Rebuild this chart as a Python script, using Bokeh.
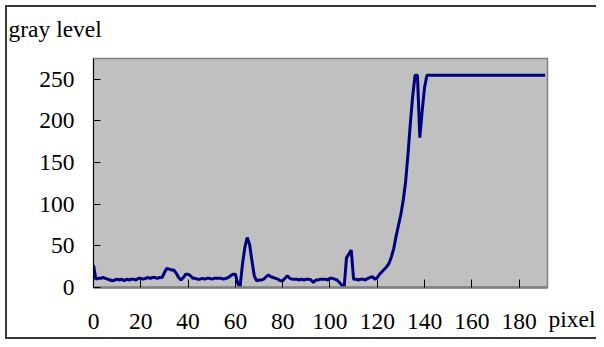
from bokeh.plotting import figure
from bokeh.models import Range1d, FixedTicker, Title
from bokeh.embed import file_html
from bokeh.resources import INLINE

# data: gray level along a row of pixels
pixel = list(range(192))
gray = [27, 10, 11, 11, 12, 11, 10, 9, 8, 9,
        10, 9, 10, 8, 10, 9, 10, 10, 9, 11,
        11, 10, 11, 12, 11, 12, 12, 11, 12, 12,
        18, 23, 22, 21, 21, 17, 12, 9, 12, 16,
        16, 14, 11, 11, 10, 10, 11, 10, 11, 11,
        10, 11, 11, 11, 11, 10, 11, 12, 14, 16,
        16, 5, 1, 28, 48, 60, 52, 32, 14, 8,
        9, 9, 10, 13, 15, 13, 12, 11, 10, 8,
        8, 11, 14, 11, 10, 10, 10, 9, 10, 9,
        10, 10, 9, 6, 9, 9, 10, 10, 10, 9,
        11, 11, 10, 9, 6, 3, 0, 36, 40, 45,
        10, 10, 9, 10, 10, 9, 11, 12, 13, 10,
        12, 16, 19, 22, 25, 29, 37, 47, 62, 75,
        88, 105, 127, 160, 197, 230, 255, 255, 180, 212,
        240] + [255] * 51

x_ticks = [0, 20, 40, 60, 80, 100, 120, 140, 160, 180]
y_ticks = [0, 50, 100, 150, 200, 250]
x_max = 192
y_max = 275
x_title = "pixel"
y_title = "gray level"

FONT = "Liberation Serif"
FS = "23.5px"

p = figure(width=596, height=339, output_backend="svg", toolbar_location=None,
           x_range=Range1d(0, x_max), y_range=Range1d(0, y_max),
           min_border_left=93, min_border_right=49, min_border_top=57, min_border_bottom=52)
p.styles = {"box-shadow": "inset 5px 5px 0 0 white, inset 7px 7px 0 0 #3a3a3a, inset 0 -2px 0 0 #3a3a3a"}
p.background_fill_color = "#c0c0c0"
p.border_fill_color = None
p.outline_line_color = "#808080"
p.outline_line_width = 1.5
p.xgrid.visible = False
p.ygrid.visible = False

p.line(pixel, gray, line_color="#000080", line_width=3)

xa = p.xaxis[0]
xa.ticker = FixedTicker(ticks=x_ticks)
xa.minor_tick_line_color = None
xa.major_tick_in = 8
xa.major_tick_out = 0
xa.major_tick_line_color = "black"
xa.axis_line_color = "#808080"
xa.axis_line_width = 2.5
xa.major_label_text_font = FONT
xa.major_label_text_font_size = FS
xa.major_label_text_color = "black"
xa.major_label_text_line_height = 1.0
xa.major_label_standoff = 26

ya = p.yaxis[0]
ya.ticker = FixedTicker(ticks=y_ticks)
ya.minor_tick_line_color = None
ya.major_tick_in = 7
ya.major_tick_out = 0
ya.major_tick_line_color = "black"
ya.axis_line_color = "black"
ya.axis_line_width = 1
ya.major_label_text_font = FONT
ya.major_label_text_font_size = FS
ya.major_label_text_color = "black"
ya.major_label_standoff = 19

# x title: on the tick-label row, just right of the axis end
xt = Title(text=x_title, align="left", offset=455, vertical_align="top",
           text_font=FONT, text_font_size=FS, text_font_style="normal",
           text_color="black", text_line_height=1.0, standoff=-52)
p.add_layout(xt, "below")

# y title: above the frame, at the chart's left edge
t = Title(text=y_title, align="left", offset=-85, vertical_align="top",
          text_font=FONT, text_font_size=FS, text_font_style="normal",
          text_color="black", standoff=30)
p.add_layout(t, "above")

open("out.html", "w").write(file_html(p, INLINE))
